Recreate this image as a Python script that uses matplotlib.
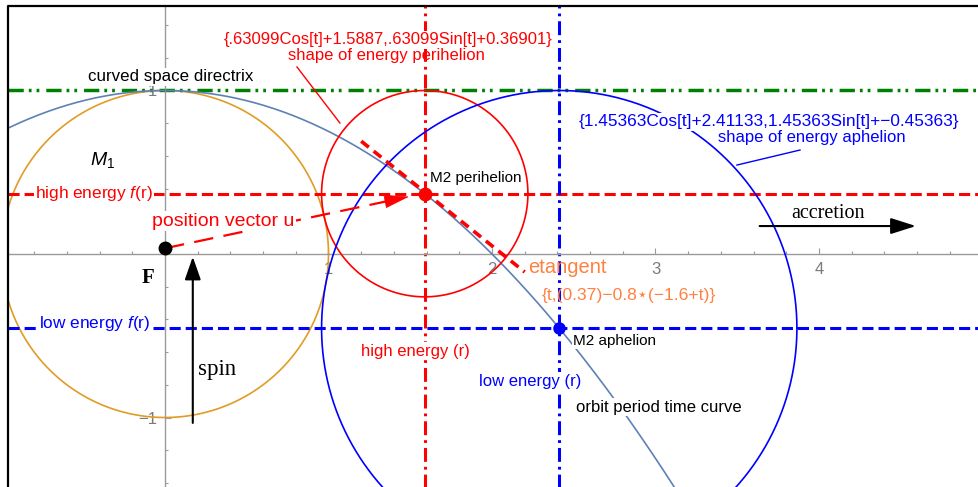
import numpy as np
import matplotlib.pyplot as plt
from matplotlib.lines import Line2D
from matplotlib.ticker import MultipleLocator, FixedLocator

plt.rcParams['font.family'] = ['Liberation Sans', 'DejaVu Sans']
plt.rcParams['mathtext.fontset'] = 'custom'
plt.rcParams['mathtext.rm'] = 'Liberation Sans'
plt.rcParams['mathtext.it'] = 'Liberation Sans:italic'
plt.rcParams['lines.scale_dashes'] = False

# geometry of the orbit
focus = [0.0, 0.035]
directrix_y = 1.0
orbit_k = 0.25                       # y = 1 - k x^2
orbit_range = [-1.0, 3.3]
m1_radius = 1.0

peri = [1.5887, 0.36901]             # M2 perihelion
peri_r = 0.63099
aph = [2.41133, -0.45363]            # M2 aphelion
aph_r = 1.45363

tan_point = [1.6, 0.37]
tan_slope = -0.8
tan_range = [1.2, 2.2]

spin_x = 0.17
spin_y = [-1.05, 0.0]
accretion_x = [3.62, 4.61]
accretion_y = 0.171

xticks = [1, 2, 3, 4, 5]
yticks = [-1, 1]

RED = '#FF0000'
BLUE = '#0000FF'
GREEN = '#008000'
ORANGE = '#E09C24'
ORBIT = '#5E81B5'
TANGENT = '#FF8040'

W, H = 979, 487
fig = plt.figure(figsize=(W / 100, H / 100), dpi=100)
# axes box: left edge at px 8, top at px 6, running past the right/bottom edges
ax = fig.add_axes([8 / W, -10 / H, (990 - 8) / W, (497 - 6) / H])
ax.set_xlim(-0.9602, 5.0459)
ax.set_ylim(-1.4862, 1.5168)

# axes through the origin
for s in ['top', 'right']:
    ax.spines[s].set_visible(False)
for s in ['left', 'bottom']:
    ax.spines[s].set_position(('data', 0))
    ax.spines[s].set_color('#9a9a9a')
    ax.spines[s].set_linewidth(1.0)
ax.xaxis.set_major_locator(FixedLocator(xticks))
ax.yaxis.set_major_locator(FixedLocator(yticks))
ax.xaxis.set_minor_locator(MultipleLocator(0.2))
ax.yaxis.set_minor_locator(MultipleLocator(0.2))
ax.tick_params(which='both', direction='in', colors='#9a9a9a', width=0.8)
ax.tick_params(which='major', length=4, labelsize=12, labelcolor='#7a7a7a', pad=5.5)
ax.tick_params(which='minor', length=2.5)

# frame
ax.add_line(Line2D([0, 0, 1], [0, 1, 1], transform=ax.transAxes, color='black',
                   lw=1.6, clip_on=False, zorder=10))

t = np.linspace(0, 2 * np.pi, 400)

# M1 circle and orbit curve
ax.plot(m1_radius * np.cos(t), m1_radius * np.sin(t), color=ORANGE, lw=1.2, zorder=2)
ox = np.linspace(orbit_range[0], orbit_range[1], 300)
ax.plot(ox, directrix_y - orbit_k * ox ** 2, color=ORBIT, lw=1.2, zorder=3)

# energy circles
ax.plot(peri_r * np.cos(t) + peri[0], peri_r * np.sin(t) + peri[1], color=RED, lw=1.2, zorder=3)
ax.plot(aph_r * np.cos(t) + aph[0], aph_r * np.sin(t) + aph[1], color=BLUE, lw=1.2, zorder=3)

# directrix and energy levels
ax.axhline(directrix_y, color=GREEN, lw=2.5, dashes=(11, 3.6, 2, 3.6, 2, 5), zorder=2)
ax.axhline(peri[1], color=RED, lw=2.2, dashes=(8, 3.6), zorder=2)
ax.axhline(aph[1], color=BLUE, lw=2.2, dashes=(8, 3.6), zorder=2)
ax.axvline(peri[0], color=RED, lw=2.2, dashes=(10, 3.6, 2, 3.6), zorder=2)
ax.axvline(aph[0], color=BLUE, lw=2.2, dashes=(10, 3.6, 2, 3.6), zorder=2)

# tangent at perihelion
tt = np.array(tan_range)
ax.plot(tt, tan_point[1] + tan_slope * (tt - tan_point[0]), color=RED, lw=2.6,
        dashes=(7, 4.5), zorder=4)

# position vector u
tip = [peri[0] - 0.08, peri[1] - 0.015]
ax.plot([focus[0], tip[0] - 0.05], [focus[1], tip[1] - 0.01], color=RED, lw=1.6,
        dashes=(14, 7.5), zorder=4)
ax.annotate('', xy=tip, xytext=(tip[0] - 0.1, tip[1] - 0.02),
            arrowprops=dict(arrowstyle='-|>,head_length=1.1,head_width=0.3',
                            color=RED, lw=0.5, mutation_scale=15), zorder=5)

# spin and accretion arrows
ax.annotate('', xy=(spin_x, spin_y[1]), xytext=(spin_x, spin_y[0]),
            arrowprops=dict(arrowstyle='-|>,head_length=1.0,head_width=0.35',
                            color='black', lw=1.5, mutation_scale=14), zorder=5)
ax.annotate('', xy=(accretion_x[1], accretion_y), xytext=(accretion_x[0], accretion_y),
            arrowprops=dict(arrowstyle='-|>,head_length=1.1,head_width=0.35',
                            color='black', lw=1.5, mutation_scale=14), zorder=5)

# points
ax.plot(*focus, 'o', color='black', ms=9, zorder=6)
ax.plot(*peri, 'o', color=RED, ms=9, zorder=6)
ax.plot(*aph, 'o', color=BLUE, ms=8, zorder=6)

# callout lines
ax.plot([0.807, 1.070], [1.144, 0.801], color=RED, lw=1.0, zorder=4)
ax.plot([3.884, 3.498], [0.636, 0.544], color=BLUE, lw=1.0, zorder=4)


def px(x, y):
    return ((x - 165) / 163.5, (254 - y) / 163.5)


white = dict(facecolor='white', edgecolor='none', pad=1.0)


def label(x, y, s, color='black', size=12, bg=True, **kw):
    ax.text(*px(x, y), s, color=color, fontsize=size, ha='center', va='center',
            bbox=white if bg else None, zorder=8, **kw)


serif = ['Liberation Serif', 'DejaVu Serif']

label(171, 77, 'curved space directrix', size=12.2)
label(388, 40, '{.63099Cos[t]+1.5887,.63099Sin[t]+0.36901}', RED, 12)
label(386, 56, 'shape of energy perihelion', RED, 12, bg=False)
label(769, 122, '{1.45363Cos[t]+2.41133,1.45363Sin[t]+\u22120.45363}', BLUE, 12.4)
label(812, 138, 'shape of energy aphelion', BLUE, 12, bg=False)
label(103, 160, '$M_1$', size=14, bg=False)
label(94, 193, 'high energy $f$(r)', RED, 12.4)
label(95, 323, 'low energy $f$(r)', BLUE, 12.4)
label(223, 221, 'position vector u', RED, 14)
label(148, 278, 'F', size=15, bg=False, family=serif, fontweight='bold')
label(217, 369, 'spin', size=16.5, bg=False, family=serif)
label(828, 213, 'accretion', size=14.5, bg=False, family=serif)
label(476, 178, 'M2 perihelion', size=11, bg=False)
label(567, 267, 'etangent', TANGENT, 14.5, bg=False)
label(629, 295, '{t,(0.37)\u22120.8\u22c6(\u22121.6+t)}', TANGENT, 12.6, bg=False)
label(615, 341, 'M2 aphelion', size=11)
label(415, 351, 'high energy (r)', RED, 12)
label(530, 381, 'low energy (r)', BLUE, 12)
label(659, 407, 'orbit period time curve', size=12)

fig.savefig('out.png', dpi=100)
